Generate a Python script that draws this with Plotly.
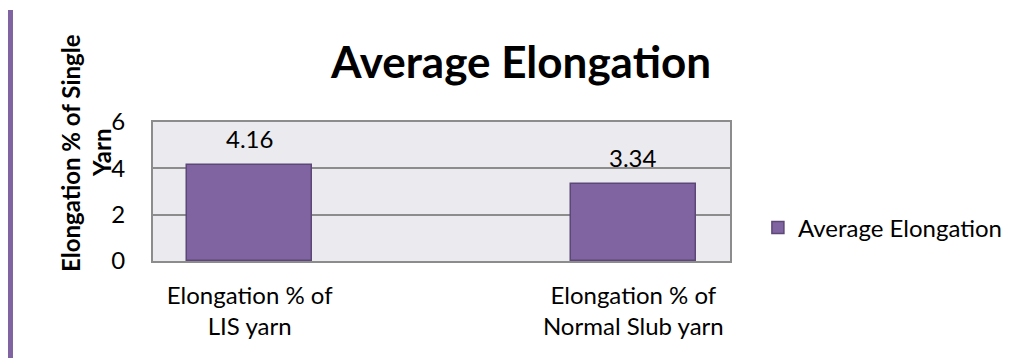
import plotly.graph_objects as go

categories = ["Elongation % of<br>LIS yarn", "Elongation % of<br>Normal Slub yarn"]
values = [4.16, 3.34]
value_labels = ["4.16", "3.34"]
series_name = "Average Elongation"
chart_title = "Average Elongation"
y_title_lines = ["Elongation % of Single", "Yarn"]
y_ticks = [0, 2, 4, 6]

FONT = "Lato"
W, H = 1020, 358
L, R, T, B = 153, 288, 122, 97
pw, ph = W - L - R, H - T - B

fig = go.Figure()
fig.add_trace(go.Bar(
    x=categories, y=values, name=series_name, width=0.325,
    marker=dict(color="#8064A2", line=dict(color="#5C4776", width=1.5)),
    showlegend=True,
))

for c, v, t in zip(categories, values, value_labels):
    fig.add_annotation(x=c, y=v, text=t, showarrow=False, yshift=26,
                       yanchor="middle", font=dict(family=FONT, size=24, color="#000"))

# y axis title (rotated, two lines)
for line, xc in zip(y_title_lines, [70, 101]):
    fig.add_annotation(xref="paper", yref="paper", x=0, xshift=xc - L,
                       y=(H - B - 153) / ph, text=line, textangle=-90,
                       showarrow=False, xanchor="center", yanchor="middle",
                       font=dict(family=FONT, size=24, color="#000", weight="bold"))

# left decorative purple rule
fig.add_shape(type="line", xref="paper", yref="paper",
              x0=(10 - L) / pw, x1=(10 - L) / pw,
              y0=(H - B - 10) / ph, y1=(H - B - H) / ph,
              line=dict(color="#8064A2", width=5))

fig.update_layout(
    width=W, height=H,
    margin=dict(l=L, r=R, t=T, b=B, pad=0),
    paper_bgcolor="white", plot_bgcolor="#EBEAEF",
    font=dict(family=FONT, size=24, color="#000"),
    title=dict(text=chart_title, x=521 / W, xanchor="center",
               y=1 - 63 / H, yanchor="middle",
               font=dict(family=FONT, size=44, color="#000", weight="bold")),
    showlegend=True,
    legend=dict(x=1 + (760 - (W - R)) / pw, xanchor="left",
                y=(H - B - 228) / ph, yanchor="middle",
                font=dict(family=FONT, size=24, color="#000"),
                bgcolor="rgba(0,0,0,0)"),
    bargap=0,
)
fig.update_xaxes(type="category", range=[-0.252, 1.252], showgrid=False,
                 showline=True, linecolor="#8C8C8C", linewidth=2, mirror=True,
                 ticks="", ticklabelstandoff=12, zeroline=False)
fig.update_yaxes(range=[0, 6], tickvals=y_ticks, showgrid=True,
                 gridcolor="#8C8C8C", gridwidth=2,
                 showline=True, linecolor="#8C8C8C", linewidth=2, mirror=True,
                 ticks="", ticklabelstandoff=21, zeroline=False)

fig.write_html("out.html")
